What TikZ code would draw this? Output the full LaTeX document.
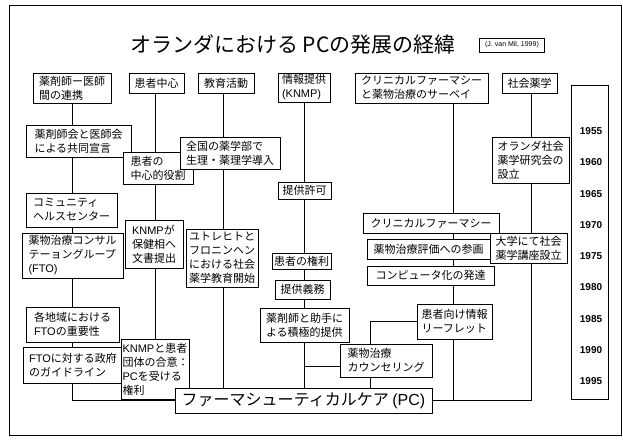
\documentclass[tikz,border=0pt]{standalone}
\usepackage{fontspec}
\setmainfont{Noto Sans CJK JP}
\newfontfamily\lat{Liberation Sans}
\usetikzlibrary{backgrounds}
\newcommand\mybox[6]{\node[bx,minimum width=#4pt-#2pt,minimum height=#5pt-#3pt] (#1) at ({(#2+#4)/2},{(#3+#5)/2}) {#6};}
\tikzset{
  bx/.style={draw,line width=0.9pt,fill=white,inner sep=1pt,align=left,font=\fontsize{11}{14}\selectfont},
  conn/.style={line width=0.8pt},
  yr/.style={font=\lat\bfseries\fontsize{10}{12}\selectfont,inner sep=0pt}
}
\begin{document}
\begin{tikzpicture}[x=1pt,y=-1pt]
\useasboundingbox (0,0) rectangle (623,439);
\draw[line width=0.9pt] (9,5) rectangle (621,435);
\node[inner sep=0pt,font=\fontsize{21}{24}\selectfont] (title) at (293,45) {オランダにおける PCの発展の経緯};
\node[draw,line width=0.7pt,inner sep=2pt,font=\lat\fontsize{7}{8}\selectfont,minimum width=65pt,minimum height=14pt] (cite) at (512,45) {(J. van Mil, 1999)};
% headers
\mybox{h1}{33}{73}{111}{103}{薬剤師ー医師\\間の連携}
\mybox{h2}{129}{73}{184}{93}{患者中心}
\mybox{h3}{198}{73}{254}{93}{教育活動}
\mybox{h4}{278}{73}{330}{102}{情報提供\\{\lat(KNMP)}}
\mybox{h5}{355}{73}{488}{103}{クリニカルファーマシー\\と薬物治療のサーベイ}
\mybox{h6}{502}{73}{557}{93}{社会薬学}
% boxes
\mybox{kyodo}{26}{125}{131}{157}{薬剤師会と医師会\\による共同宣言}
\mybox{chushin}{123}{152}{193}{184}{患者の\\中心的役割}
\mybox{zenkoku}{180}{137}{280}{169}{全国の薬学部で\\生理・薬理学導入}
\mybox{oranda}{492}{137}{569}{183}{オランダ社会\\薬学研究会の\\設立}
\mybox{kyoka}{278}{182}{331}{199}{提供許可}
\mybox{community}{26}{193}{117}{227}{コミュニティ\\ヘルスセンター}
\mybox{clin}{363}{213}{499}{233}{クリニカルファーマシー}
\mybox{knmpa}{125}{220}{183}{268}{{\lat KNMP}が\\保健相へ\\文書提出}
\mybox{utrecht}{186}{229}{258}{287}{ユトレヒトと\\フロニンヘン\\における社会\\薬学教育開始}
\mybox{daigaku}{490}{233}{567}{263}{大学にて社会\\薬学講座設立}
\mybox{fto}{22}{233}{123}{278}{薬物治療コンサル\\テーョングループ\\{\lat(FTO)}}
\mybox{hyoka}{367}{239}{490}{259}{薬物治療評価への参画}
\mybox{kenri}{272}{253}{331}{269}{患者の権利}
\mybox{computer}{367}{266}{494}{285}{コンピュータ化の発達}
\mybox{gimu}{275}{280}{330}{299}{提供義務}
\mybox{leaflet}{417}{304}{492}{339}{患者向け情報\\リーフレット}
\mybox{teikyo}{260}{308}{349}{342}{薬剤師と助手に\\よる積極的提供}
\mybox{chiiki}{26}{307}{119}{342}{各地域における\\{\lat FTO}の重要性}
\mybox{counsel}{340}{344}{432}{377}{薬物治療\\カウンセリング}
\mybox{seifu}{23}{347}{123}{383}{{\lat FTO}に対する政府\\のガイドライン}
\mybox{knmpb}{126}{339}{185}{399}{{\lat KNMP}と患者\\団体の合意：\\{\lat PC}を受ける\\権利}
\node[bx,minimum width=257pt,minimum height=25pt,font=\fontsize{16}{18}\selectfont,inner sep=2pt] (pc) at (303.5,400.5) {ファーマシューティカルケア {\lat(PC)}};
% year bar
\node[draw,line width=0.9pt,minimum width=37pt,minimum height=314pt,inner sep=0pt] (years) at (590,242) {};
\foreach \y [count=\i from 0] in {1955,1960,1965,1970,1975,1980,1985,1990,1995}
  \node[yr] (y\y) at (591,{131+\i*31.3}) {\y};
% connectors
\coordinate (c1) at (72,0);
\coordinate (c2) at (155,0);
\coordinate (c3) at (223,0);
\coordinate (c4) at (304,0);
\coordinate (c5) at (453,0);
\coordinate (c6) at (531,0);
\coordinate (c7) at (370,0);
\coordinate (cb) at (0,366);
\begin{pgfonlayer}{background}
\draw[conn] (c1 |- h1.south) -- (c1 |- pc.west) -- (pc.west);
\draw[conn] (c2 |- h2.south) -- (c2 |- knmpb.north);
\draw[conn] (c3 |- h3.south) -- (c3 |- pc.north);
\draw[conn] (c4 |- h4.south) -- (c4 |- pc.north);
\draw[conn] (c4 |- cb) -- (counsel.west |- cb);
\draw[conn] (c5 |- h5.south) -- (c5 |- pc.east);
\draw[conn] (pc.east) -- (c6 |- pc.east) -- (c6 |- h6.south);
\draw[conn] (leaflet.west) -- (c7 |- leaflet.west) -- (c7 |- pc.north);
\end{pgfonlayer}
\end{tikzpicture}
\end{document}
